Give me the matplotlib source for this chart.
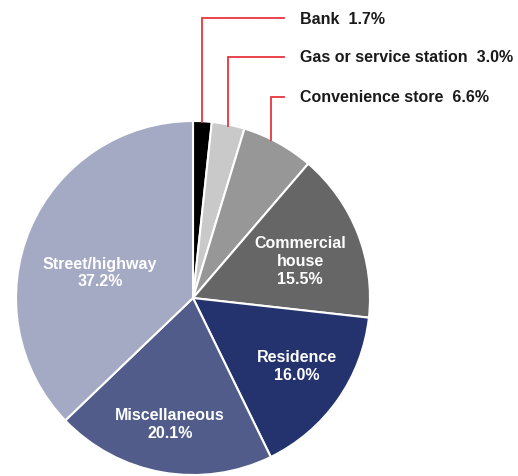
import matplotlib
matplotlib.use('Agg')
import matplotlib.pyplot as plt
import numpy as np

labels = ['Bank', 'Gas or service station', 'Convenience store', 'Commercial\nhouse',
          'Residence', 'Miscellaneous', 'Street/highway']
shares = [1.7, 3.0, 6.6, 15.5, 16.0, 20.1, 37.2]
colors = ['#000000', '#c9c9c9', '#979797', '#666666', '#24326e', '#515c8a', '#a5aac4']

W, H = 518, 477
cx, cy, r = 193, H - 299, 177

plt.rcParams['font.family'] = ['Liberation Sans Narrow', 'Liberation Sans', 'DejaVu Sans']

fig = plt.figure(figsize=(W / 100, H / 100), dpi=100)
ax = fig.add_axes([0, 0, 1, 1])

wedges, _ = ax.pie(shares, colors=colors, startangle=90, counterclock=False,
                   center=(cx, cy), radius=r,
                   wedgeprops={'edgecolor': 'white', 'linewidth': 1.5})
ax.set_xlim(0, W)
ax.set_ylim(0, H)
ax.set_aspect('equal')
ax.axis('off')

# labels inside the bigger slices
inner_pos = {3: (300, 262), 4: (297, 367), 5: (170, 425), 6: (100, 273)}
for i, (x, y) in inner_pos.items():
    ax.text(x, H - y, f'{labels[i]}\n{shares[i]:.1f}%', color='white', fontsize=11.5,
            fontweight='bold', ha='center', va='center', linespacing=1.25)

# leader lines for the small slices
label_y = [19, 58, 98]
cum = np.cumsum([0] + shares)
for i in range(3):
    mid = (cum[i] + cum[i + 1]) / 2 / 100 * 360
    if i == 2:
        mid = (cum[i] + 0.4 * shares[i]) / 100 * 360
    ax0 = cx + (r - 1) * np.sin(np.radians(mid))
    ay0 = cy + (r - 1) * np.cos(np.radians(mid))
    ly = H - label_y[i]
    ax.plot([ax0, ax0, 284], [ay0, ly, ly], color='#e8343c', lw=1.3, solid_joinstyle='miter')
    ax.text(300, ly, f'{labels[i]}  {shares[i]:.1f}%', color='#1a1a1a', fontsize=11.5,
            fontweight='bold', ha='left', va='center')

fig.savefig('out.png', dpi=100)
